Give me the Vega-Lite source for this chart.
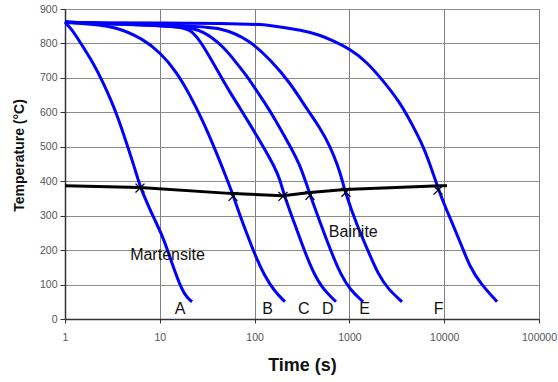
{
  "$schema": "https://vega.github.io/schema/vega-lite/v6.json",
  "width": 474,
  "height": 310,
  "autosize": {"type": "none"},
  "padding": {"left": 65, "top": 9, "right": 19, "bottom": 63},
  "background": "white",
  "config": {"view": {"stroke": "#999999", "strokeWidth": 1}, "font": "Liberation Sans"},
  "datasets": {
    "curves": [
      {"c": "A", "t": 1, "T": 862}, {"c": "A", "t": 1.2, "T": 838}, {"c": "A", "t": 1.44, "T": 804}, {"c": "A", "t": 1.97, "T": 745}, {"c": "A", "t": 2.52, "T": 687},
      {"c": "A", "t": 3.13, "T": 629}, {"c": "A", "t": 3.62, "T": 584}, {"c": "A", "t": 4.09, "T": 542}, {"c": "A", "t": 5.09, "T": 463},
      {"c": "A", "t": 6.18, "T": 387}, {"c": "A", "t": 6.49, "T": 372}, {"c": "A", "t": 8.48, "T": 297}, {"c": "A", "t": 10.8, "T": 240},
      {"c": "A", "t": 13.8, "T": 152}, {"c": "A", "t": 17.1, "T": 84}, {"c": "A", "t": 19.4, "T": 62}, {"c": "A", "t": 21.9, "T": 50},
      {"c": "B", "t": 1, "T": 862}, {"c": "B", "t": 1.84, "T": 856}, {"c": "B", "t": 3.54, "T": 848}, {"c": "B", "t": 6.65, "T": 813},
      {"c": "B", "t": 10, "T": 775}, {"c": "B", "t": 15.2, "T": 716}, {"c": "B", "t": 20.8, "T": 650}, {"c": "B", "t": 27.9, "T": 580},
      {"c": "B", "t": 36.4, "T": 507}, {"c": "B", "t": 45.3, "T": 443}, {"c": "B", "t": 52.4, "T": 398}, {"c": "B", "t": 59.2, "T": 360},
      {"c": "B", "t": 70.2, "T": 300}, {"c": "B", "t": 85.2, "T": 239}, {"c": "B", "t": 101, "T": 186}, {"c": "B", "t": 129, "T": 122},
      {"c": "B", "t": 164, "T": 79}, {"c": "B", "t": 209, "T": 50},
      {"c": "C", "t": 1, "T": 862}, {"c": "C", "t": 3.8, "T": 856}, {"c": "C", "t": 17.6, "T": 850}, {"c": "C", "t": 22.4, "T": 833},
      {"c": "C", "t": 26.6, "T": 807}, {"c": "C", "t": 33.8, "T": 760}, {"c": "C", "t": 43.2, "T": 708}, {"c": "C", "t": 55, "T": 658},
      {"c": "C", "t": 70.2, "T": 612}, {"c": "C", "t": 89.4, "T": 565}, {"c": "C", "t": 123, "T": 501}, {"c": "C", "t": 164, "T": 440},
      {"c": "C", "t": 185, "T": 405}, {"c": "C", "t": 204, "T": 361}, {"c": "C", "t": 260, "T": 282}, {"c": "C", "t": 332, "T": 201},
      {"c": "C", "t": 413, "T": 137}, {"c": "C", "t": 514, "T": 90}, {"c": "C", "t": 722, "T": 50},
      {"c": "D", "t": 1, "T": 862}, {"c": "D", "t": 17.6, "T": 850}, {"c": "D", "t": 28.6, "T": 838}, {"c": "D", "t": 46.4, "T": 792},
      {"c": "D", "t": 62.1, "T": 749}, {"c": "D", "t": 83.2, "T": 705}, {"c": "D", "t": 106, "T": 661}, {"c": "D", "t": 135, "T": 618},
      {"c": "D", "t": 164, "T": 580}, {"c": "D", "t": 199, "T": 539}, {"c": "D", "t": 248, "T": 492}, {"c": "D", "t": 301, "T": 446},
      {"c": "D", "t": 340, "T": 405}, {"c": "D", "t": 384, "T": 361}, {"c": "D", "t": 514, "T": 265}, {"c": "D", "t": 655, "T": 189},
      {"c": "D", "t": 815, "T": 128}, {"c": "D", "t": 1015, "T": 85}, {"c": "D", "t": 1392, "T": 50},
      {"c": "E", "t": 1, "T": 862}, {"c": "E", "t": 17.6, "T": 852}, {"c": "E", "t": 46.4, "T": 847}, {"c": "E", "t": 89.4, "T": 808},
      {"c": "E", "t": 145, "T": 754}, {"c": "E", "t": 236, "T": 687}, {"c": "E", "t": 357, "T": 609}, {"c": "E", "t": 490, "T": 555},
      {"c": "E", "t": 624, "T": 502}, {"c": "E", "t": 758, "T": 444}, {"c": "E", "t": 836, "T": 405}, {"c": "E", "t": 899, "T": 370},
      {"c": "E", "t": 1203, "T": 271}, {"c": "E", "t": 1610, "T": 192}, {"c": "E", "t": 2003, "T": 131}, {"c": "E", "t": 2554, "T": 87},
      {"c": "E", "t": 3589, "T": 50},
      {"c": "F", "t": 1, "T": 860}, {"c": "F", "t": 79.2, "T": 859}, {"c": "F", "t": 145, "T": 853}, {"c": "F", "t": 324, "T": 838},
      {"c": "F", "t": 490, "T": 824}, {"c": "F", "t": 671, "T": 808}, {"c": "F", "t": 1015, "T": 784}, {"c": "F", "t": 1533, "T": 746},
      {"c": "F", "t": 2262, "T": 692}, {"c": "F", "t": 3419, "T": 629}, {"c": "F", "t": 4688, "T": 560}, {"c": "F", "t": 5975, "T": 503},
      {"c": "F", "t": 7086, "T": 449}, {"c": "F", "t": 8603, "T": 380}, {"c": "F", "t": 10200, "T": 327}, {"c": "F", "t": 12090, "T": 280},
      {"c": "F", "t": 15410, "T": 210}, {"c": "F", "t": 18720, "T": 151}, {"c": "F", "t": 23860, "T": 105}, {"c": "F", "t": 36060, "T": 50}
    ],
    "bainiteLine": [
      {"t": 1, "T": 387}, {"t": 6.18, "T": 382}, {"t": 59.2, "T": 364}, {"t": 199, "T": 358},
      {"t": 384, "T": 367}, {"t": 899, "T": 376}, {"t": 9032, "T": 387}, {"t": 10700, "T": 387}
    ],
    "markers": [
      {"t": 6.18, "T": 380}, {"t": 59.2, "T": 356}, {"t": 199, "T": 356},
      {"t": 384, "T": 359}, {"t": 920, "T": 368}, {"t": 8603, "T": 374}
    ],
    "labels": [
      {"t": 16.4, "T": 29, "label": "A"}, {"t": 137, "T": 29, "label": "B"}, {"t": 330, "T": 29, "label": "C"},
      {"t": 592, "T": 29, "label": "D"}, {"t": 1450, "T": 29, "label": "E"}, {"t": 8750, "T": 29, "label": "F"},
      {"t": 12.05, "T": 186, "label": "Martensite"}, {"t": 1099, "T": 253, "label": "Bainite"}
    ]
  },
  "encoding": {
    "x": {
      "field": "t", "type": "quantitative",
      "scale": {"type": "log", "domain": [1, 100000], "nice": false},
      "axis": {
        "title": "Time (s)", "values": [1, 10, 100, 1000, 10000, 100000], "format": "d",
        "labelFlush": false, "labelOverlap": false,
        "grid": true, "gridColor": "#808080", "gridWidth": 1, "gridOpacity": 1,
        "domainColor": "#333333", "domainWidth": 1.5, "tickColor": "#333333", "tickSize": 4,
        "labelFont": "Liberation Sans", "labelFontSize": 10.5, "labelColor": "#555555", "labelPadding": 9,
        "titleFont": "Liberation Sans", "titleFontSize": 18, "titleFontWeight": "bold", "titleColor": "#111111",
        "titleX": 237, "titleY": 46, "titleBaseline": "middle", "titleAlign": "center"
      }
    },
    "y": {
      "field": "T", "type": "quantitative",
      "scale": {"domain": [0, 900], "nice": false},
      "axis": {
        "title": "Temperature (°C)", "values": [0, 100, 200, 300, 400, 500, 600, 700, 800, 900],
        "grid": true, "gridColor": "#8c8c8c", "gridWidth": 1, "gridOpacity": 1,
        "domainColor": "#333333", "domainWidth": 1.5, "tickColor": "#333333", "tickSize": 5,
        "labelFont": "Liberation Sans", "labelFontSize": 10.5, "labelColor": "#555555", "labelPadding": 3,
        "titleFont": "Liberation Sans", "titleFontSize": 14, "titleFontWeight": "bold", "titleColor": "#111111",
        "titleX": -46, "titleY": 146, "titleAngle": -90, "titleBaseline": "middle", "titleAlign": "center"
      }
    }
  },
  "layer": [
    {
      "data": {"name": "curves"},
      "mark": {"type": "line", "color": "#0000FF", "strokeWidth": 3, "interpolate": "basis"},
      "encoding": {"detail": {"field": "c", "type": "nominal"}}
    },
    {
      "data": {"name": "bainiteLine"},
      "mark": {"type": "line", "color": "#000000", "strokeWidth": 3},
      "encoding": {}
    },
    {
      "data": {"name": "markers"},
      "mark": {"type": "point", "shape": "M-1,-1L1,1M-1,1L1,-1", "filled": false, "stroke": "#000000", "strokeWidth": 1.3, "size": 80, "opacity": 1}
    },
    {
      "data": {"name": "labels"},
      "mark": {"type": "text", "font": "Liberation Sans", "fontSize": 16, "color": "#111111", "baseline": "middle", "align": "center"},
      "encoding": {"text": {"field": "label", "type": "nominal"}}
    }
  ]
}
